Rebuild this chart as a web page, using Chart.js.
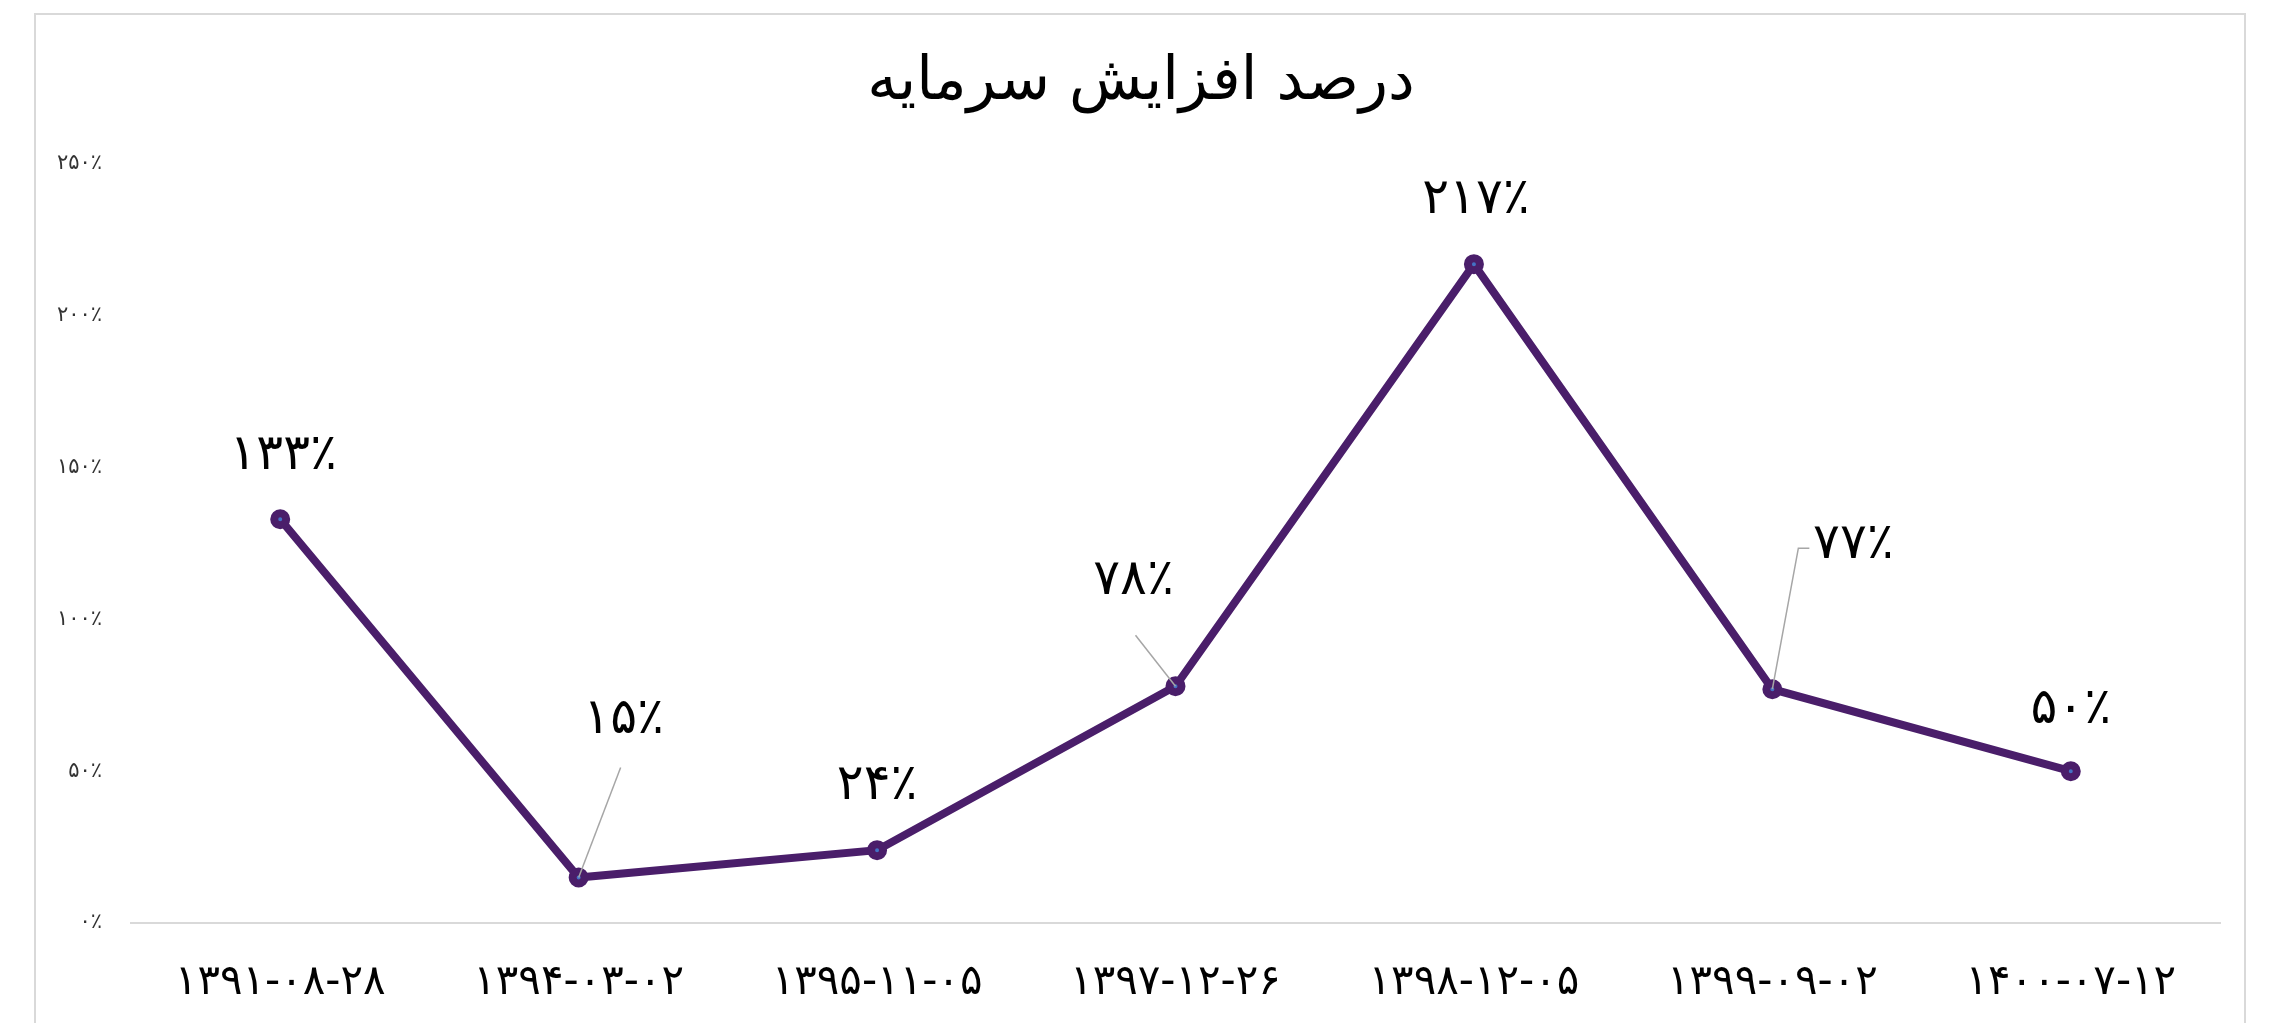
<!DOCTYPE html>
<html lang="fa">
<head>
<meta charset="UTF-8">
<title>درصد افزایش سرمایه</title>
<script src="https://cdn.jsdelivr.net/npm/chart.js"></script>
<style>
    html, body { margin: 0; padding: 0; background: #fff; overflow: hidden; }
    #frame {
        position: absolute; left: 34px; top: 13px;
        width: 2212px; height: 1100px;
        border: 2px solid #d9d9d9; box-sizing: border-box;
    }
    #wrap { position: absolute; left: 0; top: 0; width: 2275px; height: 1023px; }
</style>
</head>
<body>
<div id="frame"></div>
<div id="wrap"><canvas id="capitalChart"></canvas></div>

<script>
// data
var chartTitle = 'درصد افزایش سرمایه';
var categories = ['۱۳۹۱-۰۸-۲۸', '۱۳۹۴-۰۳-۰۲', '۱۳۹۵-۱۱-۰۵', '۱۳۹۷-۱۲-۲۶', '۱۳۹۸-۱۲-۰۵', '۱۳۹۹-۰۹-۰۲', '۱۴۰۰-۰۷-۱۲'];
var growthPercent = [133, 15, 24, 78, 217, 77, 50];
var yTicks = [0, 50, 100, 150, 200, 250];

var FONT = '"DejaVu Sans", sans-serif';
var lineColor = '#4a1e6a';

function toFa(n) {
    return String(n).replace(/\d/g, d => '۰۱۲۳۴۵۶۷۸۹'[d]);
}

// where each value label sits relative to its point (some have a leader line)
var labelOffsets = [
    { dx: 3, dy: -63 },
    { dx: 45, dy: -157, leader: [[42, -110]] },
    { dx: 0, dy: -64 },
    { dx: -42, dy: -105, leader: [[-40, -51]] },
    { dx: 2, dy: -64 },
    { dx: 81, dy: -144, leader: [[26, -141], [37, -141]] },
    { dx: 0, dy: -61 }
];

// title is centred on the framed box, not on the canvas
var frameTitle = {
    id: 'frameTitle',
    afterDraw(chart) {
        var ctx = chart.ctx;
        ctx.save();
        ctx.fillStyle = '#000';
        ctx.font = '60px ' + FONT;
        ctx.textAlign = 'center';
        ctx.textBaseline = 'middle';
        ctx.fillText(chartTitle, 1141, 83);
        ctx.restore();
    }
};

var valueLabels = {
    id: 'valueLabels',
    afterDatasetsDraw(chart) {
        var ctx = chart.ctx;
        var meta = chart.getDatasetMeta(0);
        ctx.save();
        meta.data.forEach((pt, i) => {
            var o = labelOffsets[i];
            if (o.leader) {
                ctx.beginPath();
                ctx.strokeStyle = '#a6a6a6';
                ctx.lineWidth = 1.5;
                ctx.moveTo(pt.x, pt.y);
                o.leader.forEach(p => ctx.lineTo(pt.x + p[0], pt.y + p[1]));
                ctx.stroke();
            }
            ctx.fillStyle = '#000';
            ctx.font = '50px ' + FONT;
            ctx.textAlign = 'center';
            ctx.textBaseline = 'middle';
            ctx.fillText(toFa(growthPercent[i]) + '٪', pt.x + o.dx, pt.y + o.dy);
        });
        ctx.restore();
    }
};

var ctx = document.getElementById('capitalChart').getContext('2d');
var capitalChart = new Chart(ctx, {
    type: 'line',
    data: {
        labels: categories,
        datasets: [{
            data: growthPercent,
            borderColor: lineColor,
            borderWidth: 8,
            tension: 0,
            pointRadius: 6,
            pointHoverRadius: 6,
            pointBorderWidth: 8,
            pointBorderColor: lineColor,
            pointBackgroundColor: '#4472c4'
        }]
    },
    options: {
        responsive: true,
        maintainAspectRatio: false,
        animation: false,
        layout: { padding: { left: 0, right: 55, top: 164, bottom: 23 } },
        plugins: {
            legend: { display: false },
            tooltip: { enabled: false },
            title: { display: false }
        },
        scales: {
            x: {
                offset: true,
                afterFit(scale) { scale.height = 77; },
                grid: { display: false, drawTicks: false },
                border: { display: true, color: '#d9d9d9', width: 2 },
                ticks: {
                    color: '#000',
                    padding: 35,
                    maxRotation: 0,
                    font: { family: FONT, size: 42, lineHeight: 1.2 }
                }
            },
            y: {
                min: 0,
                max: 250,
                afterFit(scale) { scale.width = 131; },
                afterBuildTicks(scale) { scale.ticks = yTicks.map(v => ({ value: v })); },
                grid: { display: false, drawTicks: false },
                border: { display: false },
                ticks: {
                    color: '#333',
                    padding: 29,
                    font: { family: FONT, size: 21 },
                    callback: v => toFa(v) + '٪'
                }
            }
        }
    },
    plugins: [frameTitle, valueLabels]
});
</script>
</body>
</html>
